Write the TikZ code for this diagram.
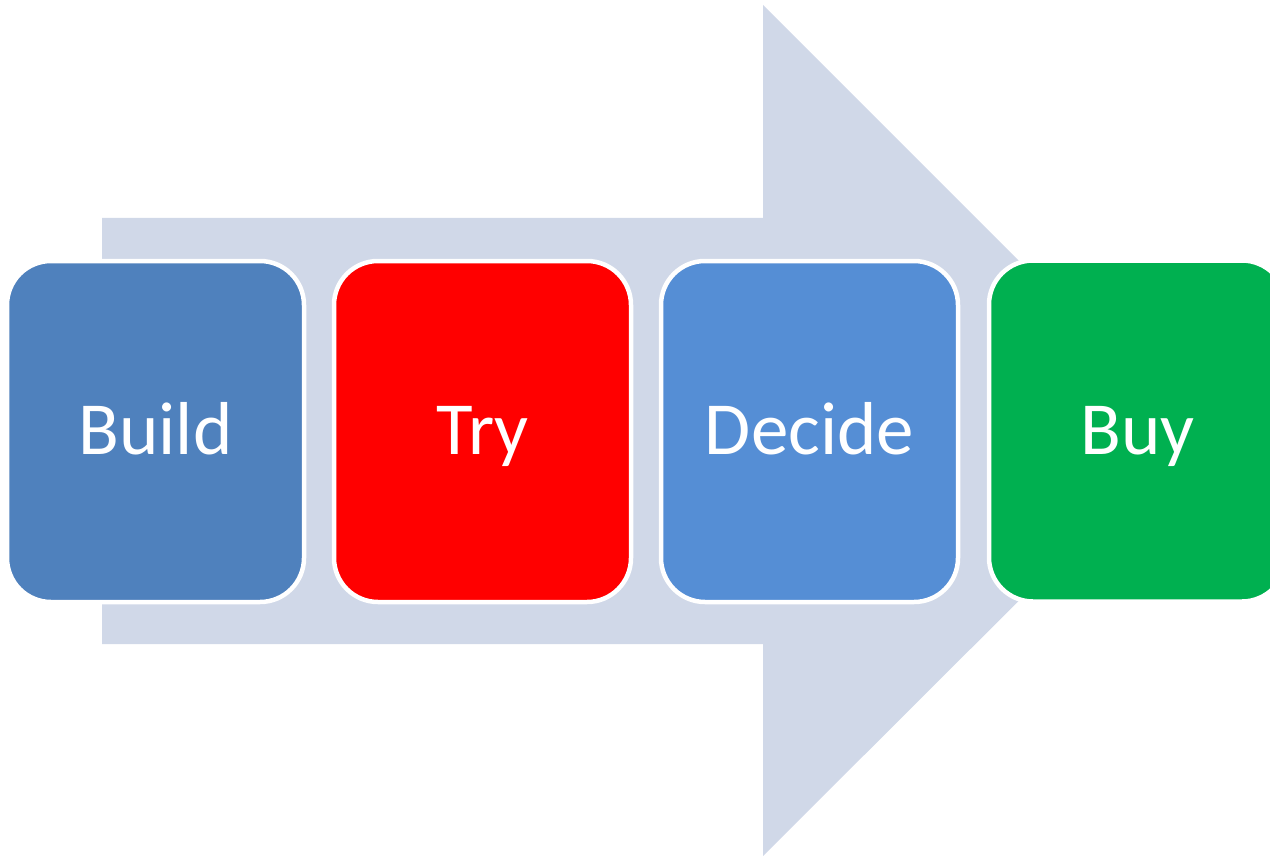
\documentclass[tikz,border=0pt]{standalone}
\usepackage{fontspec}
\setmainfont{Carlito}
\definecolor{arrowgray}{RGB}{208,216,232}
\definecolor{buildblue}{RGB}{79,129,189}
\definecolor{tryred}{RGB}{255,0,0}
\definecolor{decideblue}{RGB}{85,142,213}
\definecolor{buygreen}{RGB}{0,176,80}
\begin{document}
\begin{tikzpicture}[x=1pt,y=-1pt,every node/.style={rectangle,rounded corners=44pt,draw=white,line width=4.5pt,minimum width=297pt,minimum height=341pt,inner sep=0pt,text height=50pt,text depth=4pt,text=white,font=\fontsize{75}{90}\selectfont}]
			\useasboundingbox (0,0) rectangle (1270,856);
			\clip (0,0) rectangle (1270,856);

			%big arrow
			\fill[arrowgray] (102,218) -- (763,218) -- (763,5) -- (1189,431) -- (763,856) -- (763,644) -- (102,644) -- cycle;

			%steps
			\node [fill=buildblue] (n1) at (155.5,431.5) {Build};
			\node [fill=tryred] (n2) at (482.5,431.5) {Try};
			\node [fill=decideblue] (n3) at (809.5,431.5) {Decide};
			\node [fill=buygreen] (n4) at (1137.5,431) {Buy};
		\end{tikzpicture}
\end{document}
